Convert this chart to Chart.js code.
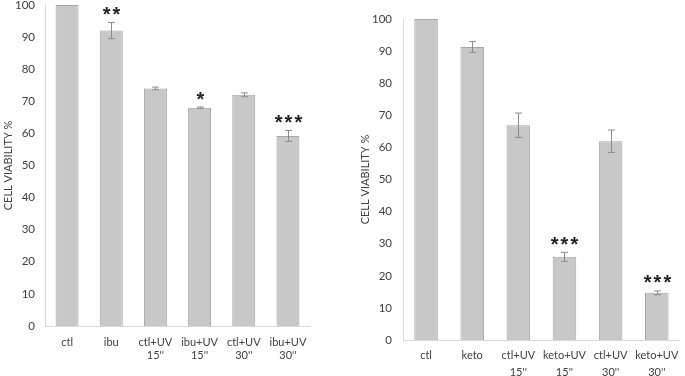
<!DOCTYPE html>
<html>
<head>
<meta charset="utf-8">
<script src="https://cdn.jsdelivr.net/npm/chart.js@4.4.1/dist/chart.umd.min.js"></script>
<style>
  body { margin: 0; background: #fff; overflow: hidden; }
  .box { position: absolute; }
  #left { left: 0; top: -12px; width: 340px; height: 388px; }
  #right { left: 340px; top: 0; width: 345px; height: 376px; }
</style>
</head>
<body>
<div class="box" id="left"><canvas id="ibuChart"></canvas></div>
<div class="box" id="right"><canvas id="ketoChart"></canvas></div>
<script>
// Left panel: ibuprofen
var ibuLabels = ['ctl', 'ibu', ['ctl+UV', "15''"], ['ibu+UV', "15''"], ['ctl+UV', "30''"], ['ibu+UV', "30''"]];
var ibuValues = [100, 92, 74, 68, 72, 59.2];
var ibuErrors = [0, 2.5, 0.4, 0.2, 0.6, 1.7];
var ibuStars = ['', '**', '', '*', '', '***'];

// Right panel: ketoprofen
var ketoLabels = ['ctl', 'keto', ['ctl+UV', "15''"], ['keto+UV', "15''"], ['ctl+UV', "30''"], ['keto+UV', "30''"]];
var ketoValues = [100, 91.3, 66.9, 25.9, 61.9, 14.7];
var ketoErrors = [0, 1.7, 3.8, 1.4, 3.5, 0.6];
var ketoStars = ['', '', '', '***', '', '***'];

var yTicks = [0, 10, 20, 30, 40, 50, 60, 70, 80, 90, 100];

// Draws error bars and significance stars on top of the bars
var errorBarPlugin = {
    id: 'errorBars',
    afterDatasetsDraw: function(chart) {
        var ctx = chart.ctx;
        var meta = chart.getDatasetMeta(0);
        var yScale = chart.scales.y;
        var errs = chart.options.plugins.errorBars.errors;
        var stars = chart.options.plugins.errorBars.stars;
        var vals = chart.data.datasets[0].data;
        ctx.save();
        meta.data.forEach(function(bar, i) {
            var x = Math.round(bar.x) + 0.5;
            var topY = yScale.getPixelForValue(vals[i] + errs[i]);
            var botY = yScale.getPixelForValue(vals[i] - errs[i]);
            if (errs[i] > 0) {
                ctx.strokeStyle = '#8c8c8c';
                ctx.lineWidth = 1;
                ctx.beginPath();
                ctx.moveTo(x, topY); ctx.lineTo(x, botY);
                ctx.moveTo(x - 3.5, topY); ctx.lineTo(x + 3.5, topY);
                ctx.moveTo(x - 3.5, botY); ctx.lineTo(x + 3.5, botY);
                ctx.stroke();
            }
            if (stars[i]) {
                ctx.fillStyle = '#222';
                ctx.font = 'bold 20px "Liberation Sans"';
                ctx.letterSpacing = '2px';
                ctx.textAlign = 'center';
                ctx.textBaseline = 'middle';
                ctx.fillText(stars[i], x + 1, topY - 7);
            }
        });
        ctx.restore();
    }
};

function makeOptions(errs, stars, cfg) {
    return {
        responsive: true,
        maintainAspectRatio: false,
        animation: false,
        layout: {
            padding: { left: cfg.padLeft, right: cfg.padRight, top: cfg.padTop, bottom: 0 }
        },
        scales: {
            x: {
                grid: { display: false, drawTicks: false },
                border: { display: true, color: '#d9d9d9', width: 1 },
                ticks: {
                    color: '#404040',
                    padding: cfg.xPad,
                    maxRotation: 0,
                    autoSkip: false,
                    font: { family: 'Lato', size: 11, lineHeight: cfg.lineH }
                },
                afterFit: function(scale) { scale.height = cfg.xHeight; }
            },
            y: {
                min: 0,
                max: 100,
                afterBuildTicks: function(scale) {
                    scale.ticks = yTicks.map(function(v) { return { value: v }; });
                },
                grid: { display: false, drawTicks: false },
                border: { display: true, color: '#d9d9d9', width: 1 },
                ticks: {
                    color: '#404040',
                    padding: cfg.yPad,
                    font: { family: 'Lato', size: 11.5 }
                },
                title: {
                    display: true,
                    text: 'CELL VIABILITY %',
                    color: '#404040',
                    font: { family: 'Lato', size: 11 },
                    padding: 0
                },
                afterFit: function(scale) { scale.width = cfg.yWidth; }
            }
        },
        plugins: {
            legend: { display: false },
            tooltip: { enabled: false },
            errorBars: { errors: errs, stars: stars }
        }
    };
}

// Left chart
var ibuCtx = document.getElementById('ibuChart').getContext('2d');
var ibuChart = new Chart(ibuCtx, {
    type: 'bar',
    data: {
        labels: ibuLabels,
        datasets: [{
            data: ibuValues,
            backgroundColor: '#c8c8c8',
            borderColor: '#a6a6a6',
            borderWidth: 1,
            barPercentage: 0.52,
            categoryPercentage: 1
        }]
    },
    options: makeOptions(ibuErrors, ibuStars, {
        padLeft: 2, padRight: 30, padTop: 5, yWidth: 43, yPad: 10,
        xHeight: 50, xPad: 10, lineH: 1.2
    }),
    plugins: [errorBarPlugin]
});

// Right chart
var ketoCtx = document.getElementById('ketoChart').getContext('2d');
var ketoChart = new Chart(ketoCtx, {
    type: 'bar',
    data: {
        labels: ketoLabels,
        datasets: [{
            data: ketoValues,
            backgroundColor: '#c8c8c8',
            borderColor: '#a6a6a6',
            borderWidth: 1,
            barPercentage: 0.51,
            categoryPercentage: 1
        }]
    },
    options: makeOptions(ketoErrors, ketoStars, {
        padLeft: 19, padRight: 2, padTop: 19, yWidth: 44, yPad: 11,
        xHeight: 36, xPad: 6.5, lineH: 1.55
    }),
    plugins: [errorBarPlugin]
});
</script>
</body>
</html>
